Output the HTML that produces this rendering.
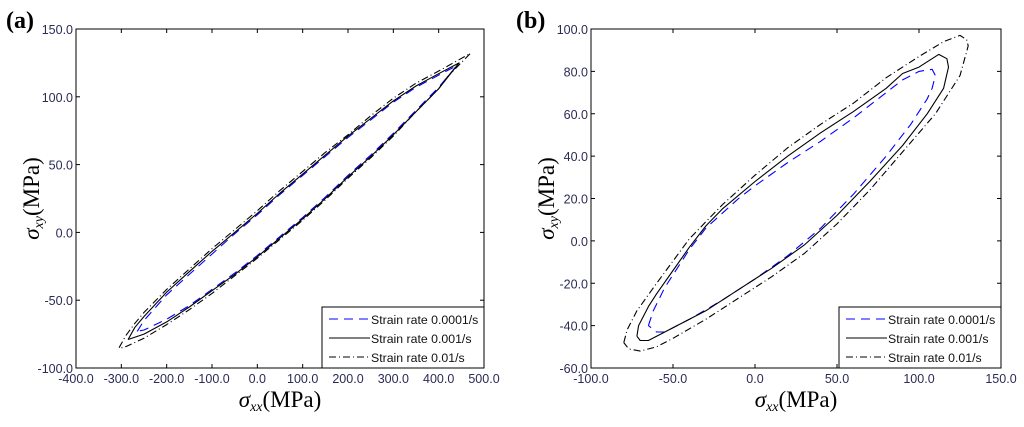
<!DOCTYPE html>
<html><head><meta charset="utf-8"><style>
body{margin:0;background:#fff;width:1024px;height:422px;overflow:hidden}
.sans{font-family:"Liberation Sans",Arial,sans-serif}
.serif{font-family:"Liberation Serif","Times New Roman",serif}
</style></head><body>
<svg id="chart" width="1024" height="422" xmlns="http://www.w3.org/2000/svg"></svg>
<script>
// Panel A data
const aXTicks=[-400,-300,-200,-100,0,100,200,300,400,500];
const aYTicks=[-100,-50,0,50,100,150];
const aBlueX=[-265,-250,-200,-150,-100,-50,0,50,100,150,200,250,300,350,400,440,400,350,300,250,200,150,100,50,0,-50,-100,-150,-200,-250,-265];
const aBlueY=[-73,-65,-46,-31,-16,-1,13,28,42,56,70,83,96,107,116,123,107,90,73,57,42,26,11,-3,-17,-30,-42,-54,-64,-72,-73];
const aSolidX=[-285,-270,-250,-200,-150,-100,-50,0,50,100,150,200,250,300,350,400,445,400,350,300,250,200,150,100,50,0,-50,-100,-150,-200,-250,-285];
const aSolidY=[-79,-70,-62,-44,-29,-14,0,14,29,43,57,71,84,97,108,117,125,106,89,72,56,41,25,10,-4,-18,-31,-43,-55,-66,-75,-79];
const aDashX=[-305,-290,-270,-250,-200,-150,-100,-50,0,50,100,150,200,250,300,350,400,470,420,400,350,300,250,200,150,100,50,0,-50,-100,-150,-200,-250,-295,-305];
const aDashY=[-85,-76,-67,-59,-42,-27,-12,2,16,31,45,59,72,86,99,110,119,132,115,106,89,71,55,40,24,9,-5,-19,-32,-45,-57,-68,-78,-85,-85];
// Panel B data
const bXTicks=[-100,-50,0,50,100,150];
const bYTicks=[-60,-40,-20,0,20,40,60,80,100];
const bBlueX=[-65,-62,-55,-50,-40,-30,-20,-10,0,20,40,60,80,90,100,108,110,108,105,95,80,60,40,20,0,-20,-40,-50,-55,-60,-65];
const bBlueY=[-40,-33,-22,-16,-4,6,13,20,26,37,47,58,70,76,80,81,78,72,67,55,40,22,6,-7,-18,-28,-37,-41,-43,-43,-40];
const bSolidX=[-72,-71,-65,-60,-50,-40,-30,-20,0,20,40,60,80,90,100,112,117,118,115,105,90,70,50,30,10,-10,-30,-50,-60,-65,-70,-72];
const bSolidY=[-45,-40,-31,-25,-14,-3,7,15,28,40,51,61,72,79,82,88,86,82,72,60,45,28,12,-2,-13,-23,-33,-41,-45,-47,-47,-45];
const bDashX=[-80,-78,-72,-60,-40,-20,0,20,40,60,80,100,115,125,129,130,125,110,90,70,50,30,10,-10,-30,-50,-60,-70,-77,-80];
const bDashY=[-48,-42,-33,-20,1,17,31,44,55,65,77,87,94,97,95,92,78,60,42,24,8,-6,-17,-27,-37,-46,-50,-52,-51,-48];

const NS="http://www.w3.org/2000/svg";
const svg=document.getElementById('chart');
function el(tag,attrs,parent){const e=document.createElementNS(NS,tag);for(const k in attrs)e.setAttribute(k,attrs[k]);(parent||svg).appendChild(e);return e;}

function panel(cfg){
  const g=el('g',{});
  
  
  const sx=v=>cfg.L+(v-cfg.xmin)/(cfg.xmax-cfg.xmin)*(cfg.R-cfg.L);
  const sy=v=>cfg.B-(v-cfg.ymin)/(cfg.ymax-cfg.ymin)*(cfg.B-cfg.T);
  const tcol='#2b2b55';
  cfg.xt.forEach(v=>{
    const x=sx(v);
    el('line',{x1:x,x2:x,y1:cfg.B,y2:cfg.B-4,stroke:'#000','stroke-width':1},g);
    el('line',{x1:x,x2:x,y1:cfg.T,y2:cfg.T+4,stroke:'#000','stroke-width':1},g);
    const t=el('text',{x:x,y:cfg.B+15,'text-anchor':'middle','font-size':'12.5',fill:tcol,class:'sans'},g);
    t.textContent=v.toFixed(1);
    
    
  });
  cfg.yt.forEach(v=>{
    const y=sy(v);
    el('line',{x1:cfg.L,x2:cfg.L+4,y1:y,y2:y,stroke:'#000','stroke-width':1},g);
    el('line',{x1:cfg.R,x2:cfg.R-4,y1:y,y2:y,stroke:'#000','stroke-width':1},g);
    const t=el('text',{x:cfg.L-3,y:y+5,'text-anchor':'end','font-size':'12.5',fill:tcol,class:'sans'},g);
    t.textContent=v.toFixed(1);
    
    
  });
  const series=[
    {x:cfg.s[0],y:cfg.s[1],c:'#0000ff',d:'9,6',n:'series-0001'},
    {x:cfg.s[2],y:cfg.s[3],c:'#000',d:'',n:'series-001'},
    {x:cfg.s[4],y:cfg.s[5],c:'#000',d:'7,3,1,3',n:'series-01'}];
  series.forEach(s=>{
    const pts=s.x.map((v,i)=>sx(v).toFixed(1)+','+sy(s.y[i]).toFixed(1)).join(' ');
    const p=el('polyline',{points:pts,fill:'none',stroke:s.c,'stroke-width':1.1,'stroke-dasharray':s.d,'stroke-linejoin':'round'},g);
    
    
  });
  const lg=el('g',{},g);
  
  
  el('rect',{x:cfg.lx,y:307,width:cfg.R-cfg.lx,height:cfg.B-307,fill:'#fff',stroke:'#000','stroke-width':1},lg);
  const labs=['Strain rate 0.0001/s','Strain rate 0.001/s','Strain rate 0.01/s'];
  series.forEach((s,i)=>{
    const y=319+i*19;
    el('line',{x1:cfg.lx+7,x2:cfg.lx+48,y1:y,y2:y,stroke:s.c,'stroke-width':1,'stroke-dasharray':s.d},lg);
    const t=el('text',{x:cfg.lx+49,y:y+5,'font-size':'12.3',fill:'#111',class:'sans'},lg);
    t.textContent=labs[i];
    
    
  });
  el('rect',{x:cfg.L,y:cfg.T,width:cfg.R-cfg.L,height:cfg.B-cfg.T,fill:'none',stroke:'#000','stroke-width':1},g);
  const xt=el('text',{x:(cfg.L+cfg.R)/2,y:407,'text-anchor':'middle','font-size':'23',class:'serif'},g);
  xt.innerHTML='<tspan font-style="italic">σ</tspan><tspan font-style="italic" font-size="14" dy="4">xx</tspan><tspan dy="-4">(MPa)</tspan>';
  
  
  const cy=(cfg.T+cfg.B)/2;
  const yt=el('text',{x:0,y:0,'text-anchor':'middle','font-size':'23',class:'serif',transform:`translate(${cfg.L-37},${cy}) rotate(-90)`},g);
  yt.innerHTML='<tspan font-style="italic">σ</tspan><tspan font-style="italic" font-size="14" dy="4">xy</tspan><tspan dy="-4">(MPa)</tspan>';
  
  
  const pl=el('text',{x:cfg.px,y:28,'font-size':'24','font-weight':'bold',class:'serif'},g);
  pl.textContent=cfg.label;
  
  
}
panel({name:'panel-a',L:76,R:484,T:29,B:368,xmin:-400,xmax:500,ymin:-100,ymax:150,xt:aXTicks,yt:aYTicks,
  s:[aBlueX,aBlueY,aSolidX,aSolidY,aDashX,aDashY],lx:322,px:6,label:'(a)'});
panel({name:'panel-b',L:591,R:1001,T:29,B:368,xmin:-100,xmax:150,ymin:-60,ymax:100,xt:bXTicks,yt:bYTicks,
  s:[bBlueX,bBlueY,bSolidX,bSolidY,bDashX,bDashY],lx:839,px:516,label:'(b)'});
</script>
</body></html>
